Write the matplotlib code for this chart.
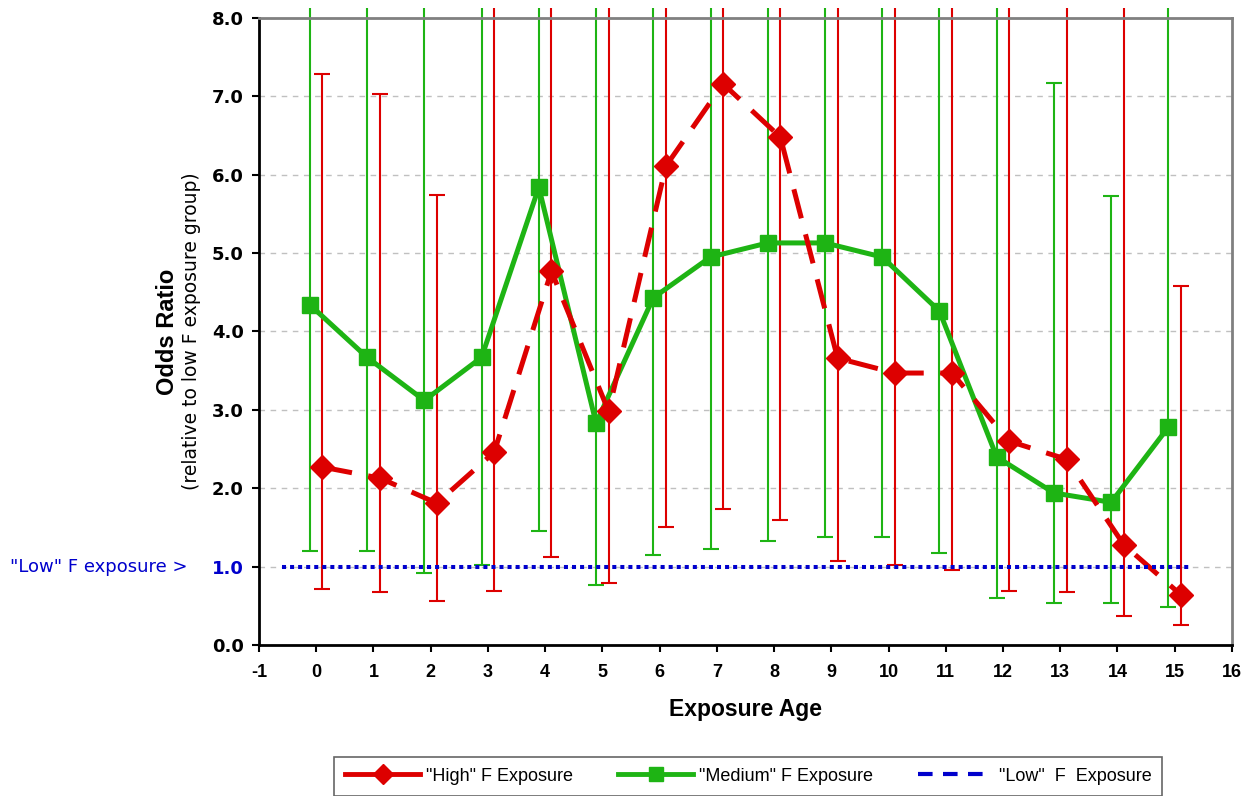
import numpy as np
import matplotlib
matplotlib.use("Agg")
import matplotlib.pyplot as plt
import matplotlib.transforms as mtransforms
from matplotlib.lines import Line2D

plt.rcParams['font.family'] = ['Liberation Sans', 'DejaVu Sans']
plt.rcParams['axes.unicode_minus'] = False

# exposure ages
ages = np.arange(16)

# odds ratios
high_or = [2.27, 2.13, 1.81, 2.46, 4.77, 2.98, 6.11, 7.16, 6.48, 3.66, 3.47, 3.47, 2.60, 2.37, 1.28, 0.64]
med_or = [4.34, 3.67, 3.12, 3.67, 5.84, 2.83, 4.43, 4.95, 5.13, 5.13, 4.95, 4.26, 2.40, 1.94, 1.82, 2.78]

# confidence limits (8.13 = bar runs off the top of the chart)
high_lo = [0.71, 0.67, 0.56, 0.69, 1.12, 0.79, 1.51, 1.73, 1.60, 1.07, 1.02, 0.96, 0.69, 0.67, 0.37, 0.26]
high_hi = [7.29, 7.03, 5.74, 8.13, 8.13, 8.13, 8.13, 8.13, 8.13, 8.13, 8.13, 8.13, 8.13, 8.13, 8.13, 4.58]
med_lo = [1.20, 1.20, 0.92, 1.02, 1.45, 0.77, 1.15, 1.22, 1.33, 1.38, 1.38, 1.17, 0.60, 0.54, 0.54, 0.49]
med_hi = [8.13, 8.13, 8.13, 8.13, 8.13, 8.13, 8.13, 8.13, 8.13, 8.13, 8.13, 8.13, 8.13, 7.17, 5.73, 8.13]

low_ref = 1.0
low_span = [-0.6, 15.25]

xticks = np.arange(-1, 17)
yticks = np.arange(0, 9)

RED = '#DD0000'
GREEN = '#1EB414'
BLUE = '#0000CC'

fig = plt.figure(figsize=(12.48, 7.96), dpi=100)
ax = fig.add_axes([0.2075, 0.1897, 0.7796, 0.7877])

hx = ages + 0.11
mx = ages - 0.11
h = np.array(high_or); m = np.array(med_or)

for x, y, lo, hi, c in [(mx, m, med_lo, med_hi, GREEN), (hx, h, high_lo, high_hi, RED)]:
    yerr = [y - np.array(lo), np.array(hi) - y]
    eb = ax.errorbar(x, y, yerr=yerr, fmt='none', ecolor=c, elinewidth=1.5,
                     capsize=5.5, capthick=1.5, zorder=2)
    for bl in eb[2]:
        bl.set_clip_on(False)

ax.plot(mx, m, color=GREEN, lw=3.6, marker='s', ms=11.5, zorder=3)
ax.plot(hx, h, color=RED, lw=3.6, ls=(0, (6, 3.3)), marker='D', ms=12, zorder=4)
ax.plot(low_span, [low_ref, low_ref], color=BLUE, lw=2.9, ls=(0, (1, 1)), zorder=5)

ax.set_xlim(-1, 16)
ax.set_ylim(0, 8)
ax.set_xticks(xticks)
ax.set_yticks(yticks)
ax.set_yticklabels(['%.1f' % v for v in yticks])
ax.yaxis.grid(True, color='#C0C0C0', ls=(0, (4, 4)), lw=1)
ax.set_axisbelow(True)

for lab in ax.get_yticklabels():
    lab.set_fontweight('bold'); lab.set_fontsize(13)
    lab.set_family('DejaVu Sans')
ax.get_yticklabels()[1].set_color(BLUE)
for lab in ax.get_xticklabels():
    lab.set_fontweight('bold'); lab.set_fontsize(13)

ax.tick_params(axis='y', direction='out', length=5, width=1.5, pad=6)
ax.tick_params(axis='x', direction='out', length=5, width=1.5, pad=9)

for s in ['left', 'bottom']:
    ax.spines[s].set_color('black'); ax.spines[s].set_linewidth(2)
for s in ['top', 'right']:
    ax.spines[s].set_color('#808080'); ax.spines[s].set_linewidth(2)

ax.set_xlabel('Exposure Age', fontsize=16.5, fontweight='bold', labelpad=12)
ax.text(-0.0945, 0.5, 'Odds Ratio', transform=ax.transAxes, rotation=90,
        ha='center', va='center', fontsize=17, fontweight='bold')
ax.text(-0.0695, 0.5, '(relative to low F exposure group)', transform=ax.transAxes,
        rotation=90, ha='center', va='center', fontsize=13.5, family='DejaVu Sans')

trans = mtransforms.blended_transform_factory(ax.transAxes, ax.transData)
ax.text(-0.073, low_ref, '"Low" F exposure >', transform=trans, ha='right',
        va='center', fontsize=13, color=BLUE, family='DejaVu Sans')

handles = [
    Line2D([], [], color=RED, lw=3.5, marker='D', ms=10),
    Line2D([], [], color=GREEN, lw=3.5, marker='s', ms=10),
    Line2D([], [], color=BLUE, lw=3, ls=(0, (3.5, 2.5))),
]
labels = ['"High" F Exposure', '"Medium" F Exposure', '"Low"  F  Exposure']
leg = fig.legend(handles, labels, loc='upper center', bbox_to_anchor=(0.5995, 0.0605),
                 ncol=3, fontsize=13, frameon=True, fancybox=False,
                 handlelength=4.17, handletextpad=0.3, columnspacing=2.5, borderpad=0.6)
leg.get_frame().set_edgecolor('#404040')
leg.get_frame().set_linewidth(1.2)

fig.savefig('out.png', dpi=100)
